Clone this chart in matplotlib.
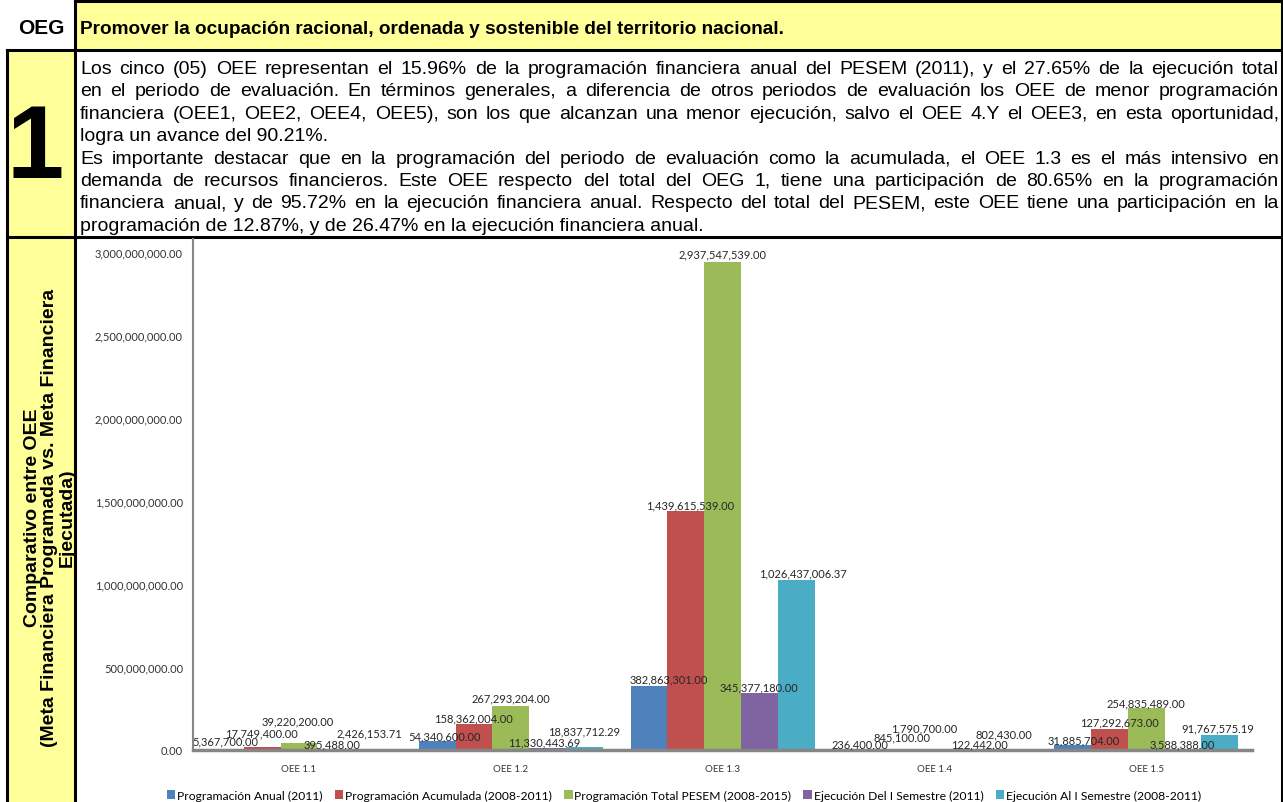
import matplotlib
matplotlib.use('Agg')
import matplotlib.pyplot as plt
from matplotlib.patches import Rectangle
from matplotlib import font_manager
import numpy as np

categories = ['OEE 1.1', 'OEE 1.2', 'OEE 1.3', 'OEE 1.4', 'OEE 1.5']
prog_anual = [5367700.00, 54340600.00, 382863301.00, 236400.00, 31885704.00]
prog_acumulada = [17749400.00, 158362004.00, 1439615539.00, 845100.00, 127292673.00]
prog_total = [39220200.00, 267293204.00, 2937547539.00, 1790700.00, 254835489.00]
ejec_semestre = [395488.00, 11330443.69, 345377180.00, 122442.00, 3588388.00]
ejec_acumulada = [2426153.71, 18837712.29, 1026437006.37, 802430.00, 91767575.19]
series_names = ['Programación Anual (2011)', 'Programación Acumulada (2008-2011)',
                'Programación Total PESEM (2008-2015)', 'Ejecución Del I Semestre (2011)',
                'Ejecución Al I Semestre (2008-2011)']
colors = ['#4F81BD', '#C0504D', '#9BBB59', '#8064A2', '#4BACC6']

title = 'Promover la ocupación racional, ordenada y sostenible del territorio nacional.'
paragraph = [
    ('Los cinco (05) OEE representan el 15.96% de la programación financiera anual del PESEM (2011), y el 27.65% de la ejecución total', True),
    ('en el periodo de evaluación. En términos generales, a diferencia de otros periodos de evaluación los OEE de menor programación', True),
    ('financiera (OEE1, OEE2, OEE4, OEE5), son los que alcanzan una menor  ejecución, salvo el OEE 4.Y el OEE3, en esta oportunidad,', True),
    ('logra un avance del 90.21%.', False),
    ('Es importante destacar que en la programación del periodo de evaluación como la acumulada, el OEE 1.3 es el más intensivo en', True),
    ('demanda de recursos financieros. Este OEE respecto del total del OEG 1, tiene una participación de 80.65% en la programación', True),
    ('financiera anual, y de 95.72% en la ejecución financiera anual. Respecto del total del PESEM, este OEE tiene una participación en la', True),
    ('programación de 12.87%, y de 26.47% en la ejecución financiera anual.', False),
]
side_label = 'Comparativo entre OEE\n(Meta Financiera Programada vs. Meta Financiera\nEjecutada)'

# label placement tweaks (pixels): shift up from bar top, shift right
label_dy = [[8, 14, 22.5, 6, 16.5], [5.3, 5.4, 7.3, 6.3, 16], [8, 6, 8, 6, 7],
            [6, 13, 21.5, 6, 16], [5, 7, 4.7, 5.4, 6.5]]
label_dx = [[0, -1, -1, -4, -3], [7, 0, 0, -3, 0], [20, 4, 0, 0, 7],
            [-1, 4, -10, 8, -4], [11, 10, 0, -1, -2]]

W, H = 1283, 803
fig = plt.figure(figsize=(W / 100, H / 100), dpi=100)

# background "table" in pixel coordinates
bg = fig.add_axes([0, 0, 1, 1])
bg.set_xlim(0, W)
bg.set_ylim(H, 0)
bg.axis('off')

yellow = '#FFFF99'
bg.add_patch(Rectangle((75, 2), W - 75, 49, color=yellow, zorder=0))
bg.add_patch(Rectangle((7, 51), 68, H - 51, color=yellow, zorder=0))
lw = 2.2
for xs_, ys_ in [([75, W], [2, 2]), ([7, W], [51, 51]), ([7, W], [238, 238]),
                 ([75, 75], [0, H]), ([7, 7], [51, H]), ([W - 1.5, W - 1.5], [0, H])]:
    bg.plot(xs_, ys_, color='black', lw=lw, zorder=5)

arial = 'Liberation Sans'
installed = {f.name for f in font_manager.fontManager.ttflist}
narrow = 'Liberation Sans Narrow' if 'Liberation Sans Narrow' in installed else arial

bg.text(41, 34, 'OEG', fontsize=15, fontweight='bold', family=arial, ha='center', va='baseline')
bg.text(80, 34, title, fontsize=13.7, fontweight='bold', family=arial, ha='left', va='baseline')
bg.text(35, 178, '1', fontsize=74, fontweight='bold', family=narrow, ha='center', va='baseline')
bg.text(50, 518, side_label, fontsize=14, fontweight='bold', family=arial, rotation=90,
        ha='center', va='center', multialignment='center', linespacing=1.0)

# justified paragraph
renderer = fig.canvas.get_renderer()
x0, x1 = 80, 1279
for k, (line, justify) in enumerate(paragraph):
    y = 74 + 22.4 * k
    if not justify:
        bg.text(x0, y, line, fontsize=14, family=arial, ha='left', va='baseline')
        continue
    words = line.split()
    texts = [bg.text(0, y, w, fontsize=14, family=arial, ha='left', va='baseline') for w in words]
    widths = [t.get_window_extent(renderer).width for t in texts]
    gap = (x1 - x0 - sum(widths)) / (len(words) - 1)
    x = x0
    for t, wd in zip(texts, widths):
        t.set_x(x)
        x += wd + gap

# chart
ax = fig.add_axes([193 / W, 1 - 751 / H, (1252 - 193) / W, (751 - 240) / H])
series = [prog_anual, prog_acumulada, prog_total, ejec_semestre, ejec_acumulada]
idx = np.arange(len(categories))
bw = 36.8 / 211.8
handles = []
for j, (vals, col) in enumerate(zip(series, colors)):
    xs = idx + (j - 2) * bw
    b = ax.bar(xs, vals, width=bw, color=col, label=series_names[j], zorder=2)
    handles.append(b)
    for i, (xv, v) in enumerate(zip(xs, vals)):
        ax.annotate(f'{v:,.2f}', xy=(xv, v), xytext=(label_dx[i][j] * 0.72, label_dy[i][j] * 0.72),
                    textcoords='offset points', ha='center', va='center',
                    fontsize=8, family='Lato', color='#262626', zorder=3)

ax.set_xlim(-0.5, len(categories) - 0.5)
ax.set_ylim(0, 3.078e9)
ax.set_yticks(np.arange(0, 3.0e9 + 1, 5e8))
ax.set_yticklabels([f'{t:,.2f}' for t in np.arange(0, 3.0e9 + 1, 5e8)], family='Lato',
                   fontsize=8, color='#333333')
ax.set_xticks(idx)
ax.set_xticklabels(categories, family='Lato', fontsize=7, color='#333333')
ax.tick_params(axis='y', length=0, pad=7.2)
ax.tick_params(axis='x', length=0, pad=10)
for s in ['top', 'right']:
    ax.spines[s].set_visible(False)
ax.spines['left'].set_color('#868686')
ax.spines['left'].set_linewidth(1.5)
ax.spines['bottom'].set_color('#868686')
ax.spines['bottom'].set_linewidth(2.5)
ax.set_facecolor('none')

fig.legend(handles=handles, labels=series_names, loc='center', ncol=5, frameon=False,
           bbox_to_anchor=(684 / W, 1 - 796 / H),
           prop={'family': 'Lato', 'size': 8.7},
           handlelength=0.7, handleheight=0.7, handletextpad=0.15, columnspacing=1.0)

fig.savefig('out.png', dpi=100)
